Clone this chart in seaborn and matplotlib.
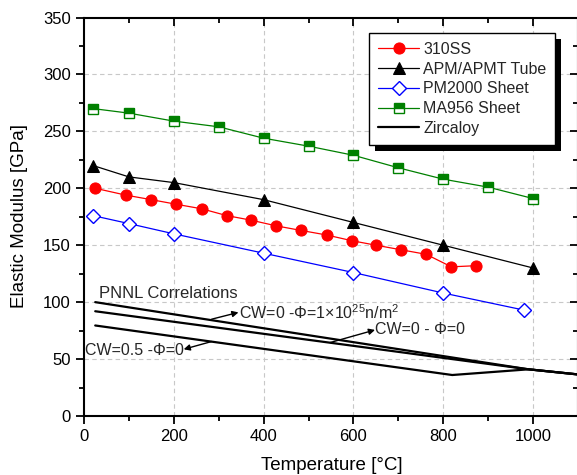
import numpy as np
import pandas as pd
import seaborn as sns
import matplotlib
matplotlib.use("Agg")
import matplotlib.pyplot as plt
from matplotlib.patches import Rectangle
from matplotlib.transforms import IdentityTransform

# ---- data ----
ss310_T = [25, 93, 150, 205, 262, 318, 372, 428, 483, 540, 596, 650, 706, 762, 818, 872]
ss310_E = [200, 194, 190, 186, 182, 176, 172, 167, 163, 159, 154, 150, 146, 142, 131, 132]

apm_T = [20, 100, 200, 400, 600, 800, 1000]
apm_E = [220, 210, 205, 190, 170, 150, 130]

pm2000_T = [20, 100, 200, 400, 600, 800, 980]
pm2000_E = [176, 169, 160, 143, 126, 108, 93]

ma956_T = [20, 100, 200, 300, 400, 500, 600, 700, 800, 900, 1000]
ma956_E = [270, 266, 259, 254, 244, 237, 229, 218, 208, 201, 191]

zr_top_T = [25, 990, 1100]
zr_top_E = [100, 41, 36.5]
zr_mid_T = [25, 990, 1100]
zr_mid_E = [92, 41, 36.5]
zr_bot_T = [25, 820, 990, 1100]
zr_bot_E = [79.5, 36, 41, 36.5]

labels = ["310SS", "APM/APMT Tube", "PM2000 Sheet", "MA956 Sheet", "Zircaloy"]
x_ticks = [0, 200, 400, 600, 800, 1000]
y_ticks = [0, 50, 100, 150, 200, 250, 300, 350]

# ---- style ----
sns.set_theme(style="ticks")
plt.rcParams["font.family"] = ["Liberation Sans", "DejaVu Sans"]
plt.rcParams["mathtext.fontset"] = "custom"
plt.rcParams["mathtext.rm"] = "Liberation Sans"
plt.rcParams["mathtext.it"] = "Liberation Sans:italic"
plt.rcParams["mathtext.bf"] = "Liberation Sans:bold"

fig = plt.figure(figsize=(5.77, 4.75), dpi=100)
ax = fig.add_axes([84 / 577, 59 / 475, 494 / 577, 398.5 / 475])

grid_kw = dict(color="#c8c8c8", lw=0.8, ls=(0, (4, 3)), zorder=0)
for gx in x_ticks[1:]:
    ax.axvline(gx, **grid_kw)
for gy in y_ticks[1:-1]:
    ax.axhline(gy, **grid_kw)

sns.lineplot(x=ss310_T, y=ss310_E, ax=ax, color="#ff0000", lw=0.9, marker="o",
             markersize=8, markeredgecolor="#ff0000", markerfacecolor="#ff0000",
             label=labels[0], zorder=3)
sns.lineplot(x=apm_T, y=apm_E, ax=ax, color="black", lw=0.9, marker="^",
             markersize=9, markeredgecolor="black", markerfacecolor="black",
             label=labels[1], zorder=3)
sns.lineplot(x=pm2000_T, y=pm2000_E, ax=ax, color="#0000ff", lw=0.9, marker="D",
             markersize=7, markeredgecolor="#0000ff", markerfacecolor="white",
             markeredgewidth=1.0, label=labels[2], zorder=3)
sns.lineplot(x=ma956_T, y=ma956_E, ax=ax, color="#008000", lw=0.9, marker="s",
             markersize=7, markeredgecolor="#008000", markerfacecolor="#008000",
             fillstyle="top", markerfacecoloralt="white", markeredgewidth=1.0,
             label=labels[3], zorder=3)
sns.lineplot(x=zr_top_T, y=zr_top_E, ax=ax, color="black", lw=1.6, sort=False,
             label=labels[4], zorder=3)
sns.lineplot(x=zr_mid_T, y=zr_mid_E, ax=ax, color="black", lw=1.6, sort=False,
             label="_nolegend_", zorder=3)
sns.lineplot(x=zr_bot_T, y=zr_bot_E, ax=ax, color="black", lw=1.6, sort=False,
             label="_nolegend_", zorder=3)

# annotations
fs = 11.5
ax.text(34, 108, "PNNL Correlations", fontsize=12, ha="left", va="center")
arrow_kw = dict(arrowstyle="-|>", color="black", lw=1.0, mutation_scale=9,
                shrinkA=0, shrinkB=0)
ax.annotate("", xy=(344, 91), xytext=(284, 85), arrowprops=arrow_kw)
ax.text(346, 90.5, r"CW=0 -Φ=1×10$^{25}$n/m$^{2}$", fontsize=fs, ha="left", va="center")
ax.annotate("", xy=(648, 75.6), xytext=(548, 64.5), arrowprops=arrow_kw)
ax.text(649, 75.6, "CW=0 - Φ=0", fontsize=fs, ha="left", va="center")
ax.annotate("", xy=(222, 58.6), xytext=(284, 65.4), arrowprops=arrow_kw)
ax.text(222, 57.5, "CW=0.5 -Φ=0", fontsize=fs, ha="right", va="center")

# axes
ax.set_xlim(0, 1100)
ax.set_ylim(0, 350)
ax.set_xticks(x_ticks)
ax.set_xticklabels([str(v) for v in x_ticks])
ax.set_xticks(np.arange(100, 1100, 200), minor=True)
ax.set_yticks(y_ticks)
ax.set_yticklabels([str(v) for v in y_ticks])
ax.set_yticks(np.arange(25, 350, 50), minor=True)
ax.tick_params(axis="both", which="major", labelsize=12, length=6, width=1.3,
               color="black", labelcolor="black", pad=3.5)
ax.tick_params(axis="both", which="minor", length=3.5, width=1.3, color="black")
ax.tick_params(axis="x", which="both", top=True, direction="out")
ax.tick_params(axis="y", which="both", right=True, direction="out")
for t in ax.xaxis.get_major_ticks() + ax.xaxis.get_minor_ticks():
    t.tick2line.set_marker(3)  # inward for top
for t in ax.yaxis.get_major_ticks() + ax.yaxis.get_minor_ticks():
    t.tick2line.set_marker(0)  # inward for right
for s in ax.spines.values():
    s.set_linewidth(1.5)
    s.set_color("black")
ax.set_xlabel("Temperature [°C]", fontsize=13.5, color="black")
ax.set_ylabel("Elastic Modulus [GPa]", fontsize=13.5, color="black")
ax.xaxis.set_label_coords(0.502, -0.104)
ax.yaxis.set_label_coords(-0.113, 0.503)

leg = ax.legend(loc="upper left", bbox_to_anchor=(0.577, 0.961), borderaxespad=0,
                fontsize=fs, frameon=True, fancybox=False, edgecolor="black",
                framealpha=1, handlelength=2.6, handletextpad=0.25,
                labelspacing=0.3, borderpad=0.55)
leg.get_frame().set_linewidth(1.0)
leg.set_zorder(10)

fig.canvas.draw()
bb = leg.get_frame().get_window_extent(fig.canvas.get_renderer())
shadow = Rectangle((bb.x0 + 6, bb.y0 - 6), bb.width, bb.height, transform=IdentityTransform(),
                   facecolor="black", edgecolor="none", zorder=9, clip_on=False)
ax.add_artist(shadow)

fig.savefig("out.png", dpi=100)
